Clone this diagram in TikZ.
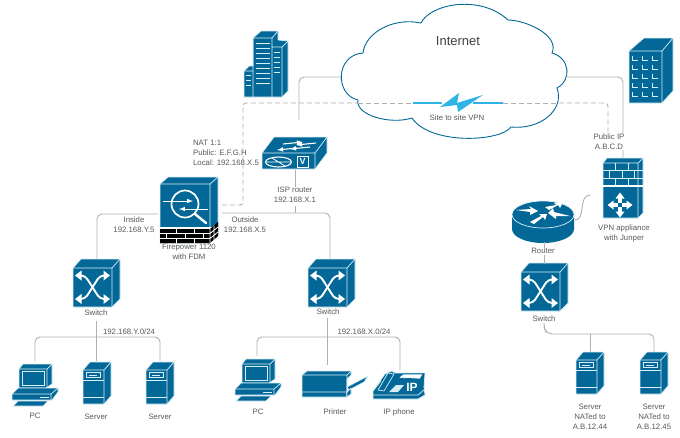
\documentclass[tikz,border=0pt]{standalone}
\usepackage{fontspec}
\setmainfont{Liberation Sans}
\definecolor{ciscoblue}{HTML}{036897}
\definecolor{linegray}{HTML}{B0B0B0}
\definecolor{txtgray}{HTML}{5A5A5A}
\definecolor{lite}{HTML}{D8EEF7}
\definecolor{boltblue}{HTML}{2FB4E6}
\tikzset{
  icon/.style={fill=ciscoblue,draw=lite,line width=.7pt,line join=round},
  ln/.style={draw=lite,line width=.7pt},
  anchorbox/.style={inner sep=0pt,outer sep=0pt,draw=none},
  lbl/.style={font=\fontsize{7.8}{10}\selectfont,text=txtgray,align=center,inner sep=.6pt,fill=white},
  lblclear/.style={font=\fontsize{7.8}{10}\selectfont,text=txtgray,align=center,inner sep=.6pt},
  conn/.style={draw=linegray,line width=.9pt,rounded corners=5pt},
  dashconn/.style={draw=linegray,line width=.9pt,rounded corners=3pt,dash pattern=on 5pt off 3pt},
  pics/switchicon/.style={code={
    \path[icon] (0,0)--(8,-9)--(47,-9)--(47,31)--(39,39)--(0,39)--cycle;
    \draw[ln] (0,0)--(39,0)--(47,-9) (39,0)--(39,39);
    \draw[white,line width=1.9pt,rounded corners=4pt] (5,7.5)--(12,7.5)--(27,31)--(34,31);
    \draw[white,line width=1.9pt,rounded corners=4pt] (5,31)--(12,31)--(27,7.5)--(34,7.5);
    \foreach \p/\q/\r in {2/7.5/1,37/7.5/-1,2/31/1,37/31/-1}{
      \fill[white] (\p,\q)--(\p+\r*6.5,\q-5)--(\p+\r*6.5,\q+5)--cycle;}
  }},
  pics/servericon/.style={code={
    \path[icon] (0,0)--(7,-8)--(28,-8)--(28,26)--(21,34)--(0,34)--cycle;
    \draw[ln] (0,0)--(21,0)--(28,-8) (21,0)--(21,34);
    \draw[ln] (0,10)--(21,10) (0,27)--(21,27);
    \draw[ln] (3,2.5) rectangle (17,7.5);
    \draw[ln,line width=.5pt] (6,5)--(14,5);
  }},
  pics/pcicon/.style={code={
    \path[icon] (7,5)--(11,0)--(40,0)--(40,20)--(34,24)--(7,24)--cycle;
    \draw[ln] (7,5)--(35,5)--(40,0) (35,5)--(35,24);
    \draw[ln] (10,7) rectangle (32,21);
    \path[icon] (0,30)--(6,24)--(46,24)--(46,28)--(40,36)--(0,36)--cycle;
    \draw[ln] (0,30)--(39,30)--(46,24) (39,30)--(39,36);
    \draw[ln] (28,33)--(37,33);
    \path[icon] (1,42)--(6,37)--(36,37)--(31,42)--cycle;
  }},
  pics/printericon/.style={code={
    \path[icon] (0,4)--(5,0)--(49,0)--(49,4)--(45,8)--(45,26)--(0,26)--cycle;
    \draw[ln] (0,4)--(45,4)--(49,0) (45,4)--(45,26) (0,21)--(45,21);
    \path[icon] (45,16)--(66,5)--(62,11)--(47,19)--cycle;
    \path[icon] (45,21)--(49,17)--(49,23)--(45,26)--cycle;
  }},
  pics/phoneicon/.style={code={
    \path[icon] (0,20)--(12,3)--(19,0)--(22,2)--(52,2)--(51,16)--(52,24)--(45,28)--(0,28)--cycle;
    \draw[ln] (0,24)--(45,24)--(52,18) (0,20)--(8,10);
    \path[icon] (5,19)--(15,2)--(21,3)--(11,20)--cycle;
    \path[fill=white,draw=ciscoblue,line width=.7pt] (25,7)--(30,3)--(50,3)--(47,8)--cycle;
    \fill[lite] (16,21)--(23,14)--(31,14)--(25,21)--cycle;
    \node[text=white,font=\bfseries\fontsize{12}{12}\selectfont,inner sep=0pt] at (39,16) {IP};
  }},
}
\begin{document}
\begin{tikzpicture}[x=1pt,y=-1pt]
\useasboundingbox (0,0) rectangle (680,437);
\fill[white] (0,0) rectangle (680,437);

% anchor boxes
\node[anchorbox,minimum width=39pt,minimum height=39pt] (sw1) at (92.5,287.5) {};
\node[anchorbox,minimum width=39pt,minimum height=39pt] (sw2) at (327.5,287.5) {};
\node[anchorbox,minimum width=39pt,minimum height=40pt] (sw3) at (540.5,292) {};
\node[anchorbox,minimum width=53pt,minimum height=33pt] (isp) at (294,153) {};
\coordinate (cloudL) at (342,77);
\coordinate (cloudR) at (567,77);
\coordinate (ispStub) at (299,120);
\coordinate (dashA) at (222,205);
\coordinate (dashB) at (608,132);
\coordinate (boltL) at (413,103);
\coordinate (boltR) at (503,103);
\coordinate (boltLi) at (442,103);
\coordinate (boltRi) at (473,103);
\coordinate (p1) at (35,361);
\coordinate (p2) at (96,361);
\coordinate (p3) at (160,361);
\coordinate (p4) at (257,356);
\coordinate (p5) at (327,365);
\coordinate (p6) at (400,370);
\coordinate (p7) at (590,352);
\coordinate (p8) at (654,352);
\coordinate (r1) at (575,220);
\coordinate (r2) at (590,195);
\coordinate (vpnTop) at (623,158);

% connectors
\draw[conn] (cloudL) -- (299,77) -- (ispStub);
\draw[conn] (cloudR) -- (623,77) -- (vpnTop);
\draw[dashconn] (dashA) -- (243,205) -- (243,103) -- (boltL);
\draw[dashconn] (boltR) -- (608,103) -- (dashB);
\draw[conn] (158,214) -- (97,214) -- (97,260);
\draw[conn] (222,213) -- (330,213) -- (330,260);
\draw[conn] (295,206) -- (295,213);
\draw[conn] (96,321) -- (p2);
\draw[conn] (96,337) -- (35,337) -- (p1);
\draw[conn] (96,337) -- (160,337) -- (p3);
\draw[conn] (327,318) -- (p5);
\draw[conn] (327,337) -- (257,337) -- (p4);
\draw[conn] (327,337) -- (400,337) -- (p6);
\draw[conn] (r1) .. controls (586,220) and (578,195) .. (r2);
\draw[conn] (544,325) -- (544,328) -- (547,334) -- (654,334) -- (p8);
\draw[conn] (590,334) -- (p7);

% cloud
\draw[fill=white,draw=ciscoblue,line width=.9pt]
 (363,53) .. controls (365,33) and (393,17) .. (421,23)
 .. controls (430,4) and (480,-6) .. (508,20)
 .. controls (525,20) and (560,35) .. (552,53)
 .. controls (570,58) and (572,80) .. (557,88)
 .. controls (565,110) and (540,130) .. (511,127)
 .. controls (500,142) and (430,145) .. (412,118)
 .. controls (390,125) and (355,115) .. (358,100)
 .. controls (335,95) and (335,55) .. (363,53) -- cycle;
\draw[dashconn] (358,103) -- (boltL);
\draw[dashconn] (boltR) -- (558,103);
\draw[draw=boltblue,line width=1.2pt] (boltL) -- (boltLi);
\draw[draw=boltblue,line width=1.2pt] (boltRi) -- (boltR);
\path[fill=boltblue] (440,107)--(459,93)--(457,103)--(483,95)--(458,112)--(457,105)--cycle;

% buildings
\path[icon] (244,71)--(249,66)--(253,66)--(253,38)--(261,31)--(278,31)--(278,40)--(288,41)--(288,91)--(282,97)--(244,97)--cycle;
\draw[ln] (244,71)--(253,71) (253,38)--(272,38)--(278,31) (272,38)--(272,47) (253,38)--(253,97) (272,47)--(282,47)--(288,41) (272,47)--(272,97) (282,47)--(282,97);
\foreach \y in {43,48,...,83}{\draw[lite,line width=.55pt] (256,\y)--(270,\y);}
\foreach \y in {52,57,...,72}{\draw[lite,line width=.55pt] (274,\y)--(280,\y);}
\foreach \y in {75,80,85}{\draw[lite,line width=.55pt] (246,\y)--(251,\y);}
\path[icon] (629,51)--(644,38)--(673,38)--(673,91)--(662,103)--(629,103)--cycle;
\draw[ln] (629,51)--(662,51)--(673,38) (662,51)--(662,103);
\foreach \y in {56,65,74,83,92}{\foreach \x in {632,642,652}{\draw[lite,line width=.7pt] (\x,\y)--(\x,\y+4)--(\x+6,\y+4);}}

% ISP router
\path[icon] (262,153)--(274,137)--(327,137)--(327,153)--(315,169)--(262,169)--cycle;
\draw[ln] (262,153)--(315,153)--(327,137) (315,153)--(315,169);
\draw[white,line width=1.1pt,-latex] (283,144)--(303,142);
\draw[white,line width=1.1pt,-latex] (316,143)--(296,145);
\draw[white,line width=1.1pt,-latex] (297,148)--(277,150);
\draw[white,line width=1.1pt,latex-] (290,149)--(310,147);
\draw[white,line width=1.1pt] (278.5,162) ellipse (13pt and 5pt);
\draw[white,line width=.8pt] (266,162)--(291,162) (272,158)--(285,166);
\draw[white,line width=1pt] (297,156) rectangle (308,167);
\node[text=white,font=\bfseries\fontsize{9}{9}\selectfont,inner sep=0pt] (ispv) at (302.5,161.5) {V};

% Firepower
\path[icon] (160,184)--(168,177)--(218,177)--(218,236)--(210,243)--(160,243)--cycle;
\draw[ln] (160,184)--(210,184)--(218,177) (210,184)--(210,228);
\fill[white] (160,227) rectangle (218,229);
\fill[black] (160,229)--(210,229)--(218,222)--(218,236)--(210,243)--(160,243)--cycle;
\foreach \y in {233.5,238.5}{\draw[white,line width=.8pt] (160,\y)--(210,\y);}
\foreach \x in {176,194}{\draw[white,line width=.8pt] (\x,229)--(\x,233.5) (\x,238.5)--(\x,243);}
\foreach \x in {166,185,203}{\draw[white,line width=.8pt] (\x,233.5)--(\x,238.5);}
\draw[white,line width=.8pt] (210,233.5)--(218,227) (210,238.5)--(218,232) (210,229)--(210,243) (214,225.5)--(214,240);
\draw[white,line width=1.7pt] (185,204) circle (13.5pt);
\draw[white,line width=1pt,-latex] (163,201)--(193,201);
\draw[white,line width=1pt,-latex] (208,209)--(179,209);
\draw[white,line width=2.4pt,line cap=round] (195,214)--(206,223);

% VPN appliance
\path[icon] (603,163)--(607,158)--(643,158)--(643,213)--(638,218)--(603,218)--cycle;
\draw[ln] (603,163)--(638,163)--(643,158) (638,163)--(638,218);
\fill[white] (603,185) rectangle (643,187);
\foreach \y in {170,178}{\draw[lite,line width=.9pt] (603,\y)--(643,\y);}
\foreach \x in {615,628}{\draw[lite,line width=.9pt] (\x,163)--(\x,170) (\x,178)--(\x,185);}
\foreach \x in {609,622,634}{\draw[lite,line width=.9pt] (\x,170)--(\x,178);}
\foreach \a/\b in {1/0,-1/0,0/1,0/-1}{
  \fill[white] (620+\a*2+\b*1.8,205+\b*2+\a*1.8)--(620+\a*2-\b*1.8,205+\b*2-\a*1.8)--(620+\a*7-\b*1.8,205+\b*7-\a*1.8)--(620+\a*7+\b*1.8,205+\b*7+\a*1.8)--cycle;
  \fill[white] (620+\a*12.5,205+\b*12.5)--(620+\a*6.5+\b*4.5,205+\b*6.5+\a*4.5)--(620+\a*6.5-\b*4.5,205+\b*6.5-\a*4.5)--cycle;
}

% Round router
\path[fill=ciscoblue] (512,214) arc[start angle=180,end angle=360,x radius=31pt,y radius=13.5pt] -- (574,229) arc[start angle=0,end angle=-180,x radius=31pt,y radius=14pt] -- cycle;
\draw[lite,line width=.7pt,fill=ciscoblue] (543,214.5) ellipse (31pt and 13.5pt);
\fill[white] (516,210)--(531,209)--(529,206)--(538,211)--(530,215)--(530,212)--cycle;
\fill[white] (570,216)--(556,216)--(556,219)--(548,213)--(553,208)--(554,212)--cycle;
\fill[white] (545,207)--(549,210)--(558,205)--(560,208)--(563,202)--(554,203)--(556,205)--cycle;
\fill[white] (530,222)--(534,224)--(543,217)--(545,220)--(547,214)--(539,214)--(541,216)--cycle;

% switches, servers, PCs
\pic at (sw1.north west) {switchicon};
\pic at (sw2.north west) {switchicon};
\pic at (sw3.north west) {switchicon};
\pic at (83,370) {servericon};
\pic at (146,370) {servericon};
\pic at (576,360) {servericon};
\pic at (640,360) {servericon};
\pic at (12,364) {pcicon};
\pic at (235,359) {pcicon};
\pic at (302,371) {printericon};
\pic at (373,371) {phoneicon};

% labels
\node[lblclear,font=\fontsize{13}{15}\selectfont,text=black!75] (tInternet) at (458,41) {Internet};
\node[lblclear] (tvpn) at (457,118) {Site to site VPN};
\node[lblclear,align=left] (tnat) at (226,153) {NAT 1:1\\Public: E.F.G.H\\Local: 192.168.X.5};
\node[lblclear] (tisp) at (295,195) {ISP router\\192.168.X.1};
\draw[conn] (isp.south) ++(1,0) -- (295,187);
\node[lblclear] (tin) at (134,224.5) {Inside\\192.168.Y.5};
\node[lblclear] (tout) at (245,224.5) {Outside\\192.168.X.5};
\node[lblclear] (tfw) at (189,252) {Firepower 1120\\with FDM};
\node[lbl] (tpub) at (609,142) {Public IP\\A.B.C.D};
\node[lblclear] (tvpna) at (624,233) {VPN appliance\\with Junper};
\node[lblclear] (trtr) at (543,251) {Router};
\draw[conn] (544,242) -- (544,249);
\draw[conn] (544,255) -- (544,264);
\node[lblclear] (tsw1) at (96,313) {Switch};
\node[lblclear] (tsw2) at (328,312) {Switch};
\node[lblclear] (tsw3) at (544,319) {Switch};
\node[lblclear] (ty) at (129,332) {192.168.Y.0/24};
\node[lblclear] (tx) at (364,332) {192.168.X.0/24};
\node[lblclear] (tpc1) at (35,416) {PC};
\node[lblclear] (ts1) at (96,417) {Server};
\node[lblclear] (ts2) at (160,417) {Server};
\node[lblclear] (tpc2) at (258,412) {PC};
\node[lblclear] (tpr) at (335,412) {Printer};
\node[lblclear] (tph) at (399,412) {IP phone};
\node[lblclear] (ts3) at (590,417) {Server\\NATed to\\A.B.12.44};
\node[lblclear] (ts4) at (654,417) {Server\\NATed to\\A.B.12.45};
\end{tikzpicture}
\end{document}
